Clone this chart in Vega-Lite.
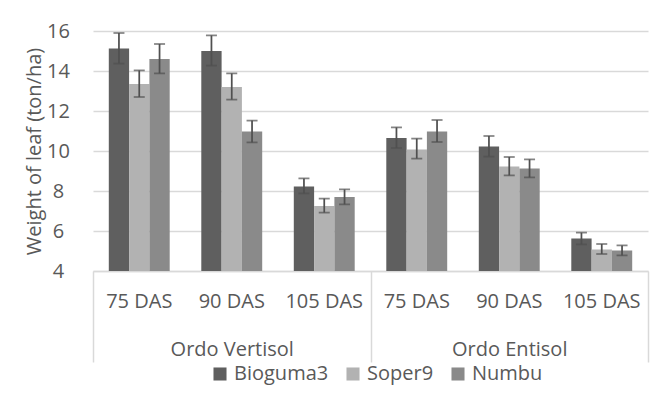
{
  "$schema": "https://vega.github.io/schema/vega-lite/v6.json",
  "width": 555,
  "height": 240,
  "autosize": "none",
  "padding": {"left": 93, "top": 31, "right": 23, "bottom": 122},
  "config": {
    "font": "Open Sans",
    "view": {"stroke": null},
    "axis": {"labelColor": "#595959", "titleColor": "#595959", "labelFont": "Open Sans", "titleFont": "Open Sans"},
    "axisY": {"tickCount": 7, "labelOverlap": false, "domain": false, "ticks": false, "gridColor": "#d9d9d9", "gridWidth": 1.5, "labelFontSize": 20, "labelAlign": "center", "labelPadding": 35, "titleFontSize": 20, "titleFontWeight": "normal", "titlePadding": 2},
    "legend": {"labelColor": "#595959", "labelFont": "Open Sans"}
  },
  "data": {
    "values": [
      {"ordo": "Ordo Vertisol", "cat": "Ordo Vertisol|75 DAS", "series": "Bioguma3", "value": 15.12, "lo": 14.37, "hi": 15.9},
      {"ordo": "Ordo Vertisol", "cat": "Ordo Vertisol|75 DAS", "series": "Soper9", "value": 13.35, "lo": 12.7, "hi": 14.03},
      {"ordo": "Ordo Vertisol", "cat": "Ordo Vertisol|75 DAS", "series": "Numbu", "value": 14.6, "lo": 13.88, "hi": 15.35},
      {"ordo": "Ordo Vertisol", "cat": "Ordo Vertisol|90 DAS", "series": "Bioguma3", "value": 15.0, "lo": 14.27, "hi": 15.78},
      {"ordo": "Ordo Vertisol", "cat": "Ordo Vertisol|90 DAS", "series": "Soper9", "value": 13.2, "lo": 12.57, "hi": 13.88},
      {"ordo": "Ordo Vertisol", "cat": "Ordo Vertisol|90 DAS", "series": "Numbu", "value": 10.97, "lo": 10.43, "hi": 11.52},
      {"ordo": "Ordo Vertisol", "cat": "Ordo Vertisol|105 DAS", "series": "Bioguma3", "value": 8.22, "lo": 7.88, "hi": 8.63},
      {"ordo": "Ordo Vertisol", "cat": "Ordo Vertisol|105 DAS", "series": "Soper9", "value": 7.25, "lo": 6.92, "hi": 7.62},
      {"ordo": "Ordo Vertisol", "cat": "Ordo Vertisol|105 DAS", "series": "Numbu", "value": 7.7, "lo": 7.33, "hi": 8.08},
      {"ordo": "Ordo Entisol", "cat": "Ordo Entisol|75 DAS", "series": "Bioguma3", "value": 10.65, "lo": 10.15, "hi": 11.18},
      {"ordo": "Ordo Entisol", "cat": "Ordo Entisol|75 DAS", "series": "Soper9", "value": 10.08, "lo": 9.62, "hi": 10.62},
      {"ordo": "Ordo Entisol", "cat": "Ordo Entisol|75 DAS", "series": "Numbu", "value": 10.98, "lo": 10.45, "hi": 11.55},
      {"ordo": "Ordo Entisol", "cat": "Ordo Entisol|90 DAS", "series": "Bioguma3", "value": 10.22, "lo": 9.72, "hi": 10.75},
      {"ordo": "Ordo Entisol", "cat": "Ordo Entisol|90 DAS", "series": "Soper9", "value": 9.22, "lo": 8.78, "hi": 9.7},
      {"ordo": "Ordo Entisol", "cat": "Ordo Entisol|90 DAS", "series": "Numbu", "value": 9.12, "lo": 8.68, "hi": 9.58},
      {"ordo": "Ordo Entisol", "cat": "Ordo Entisol|105 DAS", "series": "Bioguma3", "value": 5.62, "lo": 5.33, "hi": 5.92},
      {"ordo": "Ordo Entisol", "cat": "Ordo Entisol|105 DAS", "series": "Soper9", "value": 5.08, "lo": 4.85, "hi": 5.35},
      {"ordo": "Ordo Entisol", "cat": "Ordo Entisol|105 DAS", "series": "Numbu", "value": 5.02, "lo": 4.78, "hi": 5.28}
    ]
  },
  "layer": [
    {
      "encoding": {
        "x": {
          "field": "cat", "type": "nominal",
          "sort": ["Ordo Vertisol|75 DAS", "Ordo Vertisol|90 DAS", "Ordo Vertisol|105 DAS", "Ordo Entisol|75 DAS", "Ordo Entisol|90 DAS", "Ordo Entisol|105 DAS"],
          "scale": {"type": "band", "paddingInner": 0, "paddingOuter": 0},
          "axis": {"title": null, "orient": "bottom", "labelExpr": "split(datum.label, '|')[1]", "ticks": false, "domainColor": "#d9d9d9", "domainWidth": 1.5, "labelFontSize": 20, "labelPadding": 20, "labelAngle": 0}
        },
        "xOffset": {
          "field": "series", "type": "nominal",
          "sort": ["Bioguma3", "Soper9", "Numbu"],
          "scale": {"type": "band", "paddingInner": 0, "paddingOuter": 0.778}
        }
      },
      "layer": [
        {
          "mark": {"type": "bar", "clip": true},
          "encoding": {
            "y": {
              "field": "value", "type": "quantitative",
              "scale": {"domain": [4, 16], "nice": false, "zero": false},
              "axis": {"title": "Weight of leaf (ton/ha)", "values": [4, 6, 8, 10, 12, 14, 16]}
            },
            "color": {
              "field": "series", "type": "nominal",
              "sort": ["Bioguma3", "Soper9", "Numbu"],
              "scale": {"domain": ["Bioguma3", "Soper9", "Numbu"], "range": ["#5f5f5f", "#b2b2b2", "#8a8a8a"]},
              "legend": {"orient": "none", "legendX": 117, "legendY": 333, "direction": "horizontal", "title": null, "symbolType": "square", "symbolSize": 170, "symbolStrokeWidth": 0, "labelFontSize": 20, "labelOffset": 4, "columnPadding": 14}
            }
          }
        },
        {
          "mark": {"type": "rule", "color": "#505050", "strokeWidth": 1.75},
          "encoding": {"y": {"field": "lo", "type": "quantitative", "axis": {"title": "Weight of leaf (ton/ha)", "values": [4, 6, 8, 10, 12, 14, 16]}}, "y2": {"field": "hi"}}
        },
        {
          "mark": {"type": "tick", "color": "#505050", "thickness": 1.75, "size": 11},
          "encoding": {"y": {"field": "hi", "type": "quantitative", "axis": {"title": "Weight of leaf (ton/ha)", "values": [4, 6, 8, 10, 12, 14, 16]}}}
        },
        {
          "mark": {"type": "tick", "color": "#505050", "thickness": 1.75, "size": 11},
          "encoding": {"y": {"field": "lo", "type": "quantitative", "axis": {"title": "Weight of leaf (ton/ha)", "values": [4, 6, 8, 10, 12, 14, 16]}}}
        }
      ]
    },
    {
      "mark": {"type": "rule", "opacity": 0},
      "encoding": {
        "x": {
          "field": "ordo", "type": "nominal",
          "sort": ["Ordo Vertisol", "Ordo Entisol"],
          "scale": {"type": "band", "paddingInner": 0, "paddingOuter": 0},
          "axis": {"title": null, "orient": "bottom", "tickBand": "extent", "tickSize": 91, "tickColor": "#d9d9d9", "tickWidth": 1.5, "domain": false, "labelFontSize": 20, "labelPadding": -23, "labelAngle": 0}
        }
      }
    }
  ],
  "resolve": {"scale": {"x": "independent"}, "axis": {"x": "independent"}}
}
